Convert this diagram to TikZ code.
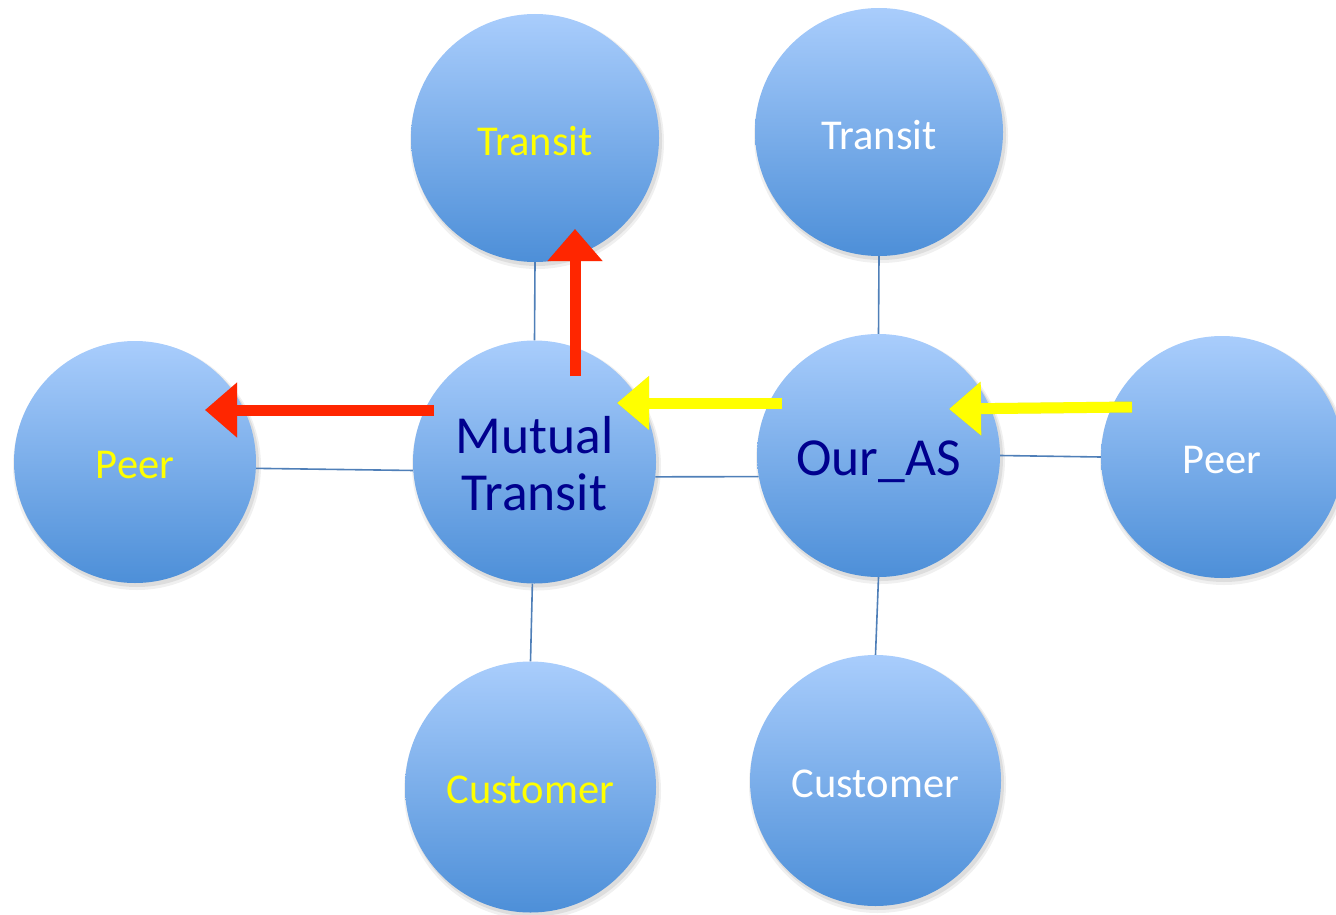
\documentclass[tikz,border=0pt]{standalone}
\usepackage{fontspec}
\setmainfont{Carlito}
\usetikzlibrary{arrows.meta}
\definecolor{circtop}{HTML}{A9CDFC}
\definecolor{circbot}{HTML}{4D8FD8}
\definecolor{linkblue}{HTML}{4F7FB8}
\definecolor{navytxt}{HTML}{00008E}
\definecolor{hotred}{HTML}{FF2600}
\definecolor{yel}{HTML}{FFFF00}
\newcommand{\dn}[2][3pt]{\raisebox{-#1}[\height][\depth]{#2}}
\begin{document}
\begin{tikzpicture}[x=1pt,y=-1pt,
  asnode/.style={circle, minimum size=#1, inner sep=0pt, top color=circtop, bottom color=circbot, draw=none, align=center},
  asnode/.default=243pt,
  link/.style={draw=linkblue, line width=1.6pt},
  redarrow/.style={draw=hotred, line width=11pt, -{Triangle[width=53pt,length=32pt,fill=hotred]}},
  yelarrow/.style={draw=yel, line width=11pt, -{Triangle[width=52pt,length=32pt,fill=yel]}},
  small/.style={font=\fontsize{42.5}{46}\selectfont},
  big/.style={font=\fontsize{53.5}{57}\selectfont}
]
\useasboundingbox (0,0) rectangle (1336,915);
\clip (0,0) rectangle (1336,915);
% shadows
\foreach \x/\y/\r in {535/138/124, 879/132/124, 135/462/121, 534.5/462/121.5, 878.5/455.5/121.5, 1222/457/121, 530.5/787/125.5, 875.5/780.5/125.5}{
  \fill[black, opacity=0.06] (\x+2,\y+4) circle (\r+3);
  \fill[black, opacity=0.08] (\x+2,\y+3) circle (\r+1);
}
% nodes
\node[asnode=248pt, small, text=yel] (transitL) at (535,138) {\dn{Transit}};
\node[asnode=248pt, small, text=white] (transitR) at (879,132) {\dn{Transit}};
\node[asnode=242pt, small, text=yel] (peerL) at (135,462) {\dn{Peer}};
\node[asnode=243pt, big, text=navytxt] (mutual) at (534.5,462) {\dn[9pt]{\begin{tabular}{@{}c@{}}Mutual\\Transit\end{tabular}}};
\node[asnode=243pt, big, text=navytxt] (ouras) at (878.5,455.5) {\dn[6pt]{Our\_AS}};
\node[asnode=242pt, small, text=white] (peerR) at (1222,457) {\dn{Peer}};
\node[asnode=251pt, small, text=yel] (custL) at (530.5,787) {\dn{Customer}};
\node[asnode=251pt, small, text=white] (custR) at (875.5,780.5) {\dn{Customer}};
% links
\draw[link] (transitL.-90) -- (mutual.90);
\draw[link] (transitR.-90) -- (ouras.90);
\draw[link] (peerL.-3.8) -- (mutual.184.7);
\draw[link] (mutual.-7.1) -- (ouras.190);
\draw[link] (ouras.0) -- (peerR.180);
\draw[link] (mutual.-91) -- (custL.90);
\draw[link] (ouras.-90.5) -- (custR.90);
% arrow endpoints
\coordinate (r1s) at (434,410);
\coordinate (r1e) at (205,410);
\coordinate (r2s) at (575,376);
\coordinate (r2e) at (575,229);
\coordinate (y1s) at (782,403);
\coordinate (y1e) at (617,403);
\coordinate (y2s) at (1132,407);
\coordinate (y2e) at (949,409);
% arrow shadows
\begin{scope}[opacity=0.12, shift={(2,4)}]
\draw[draw=black, line width=11pt, -{Triangle[width=53pt,length=32pt,fill=black]}] (r1s) -- (r1e);
\draw[draw=black, line width=11pt, -{Triangle[width=53pt,length=32pt,fill=black]}] (r2s) -- (r2e);
\draw[draw=black, line width=11pt, -{Triangle[width=52pt,length=32pt,fill=black]}] (y1s) -- (y1e);
\draw[draw=black, line width=11pt, -{Triangle[width=52pt,length=32pt,fill=black]}] (y2s) -- (y2e);
\end{scope}
\draw[redarrow] (r1s) -- (r1e);
\draw[redarrow] (r2s) -- (r2e);
\draw[yelarrow] (y1s) -- (y1e);
\draw[yelarrow] (y2s) -- (y2e);
\end{tikzpicture}
\end{document}
